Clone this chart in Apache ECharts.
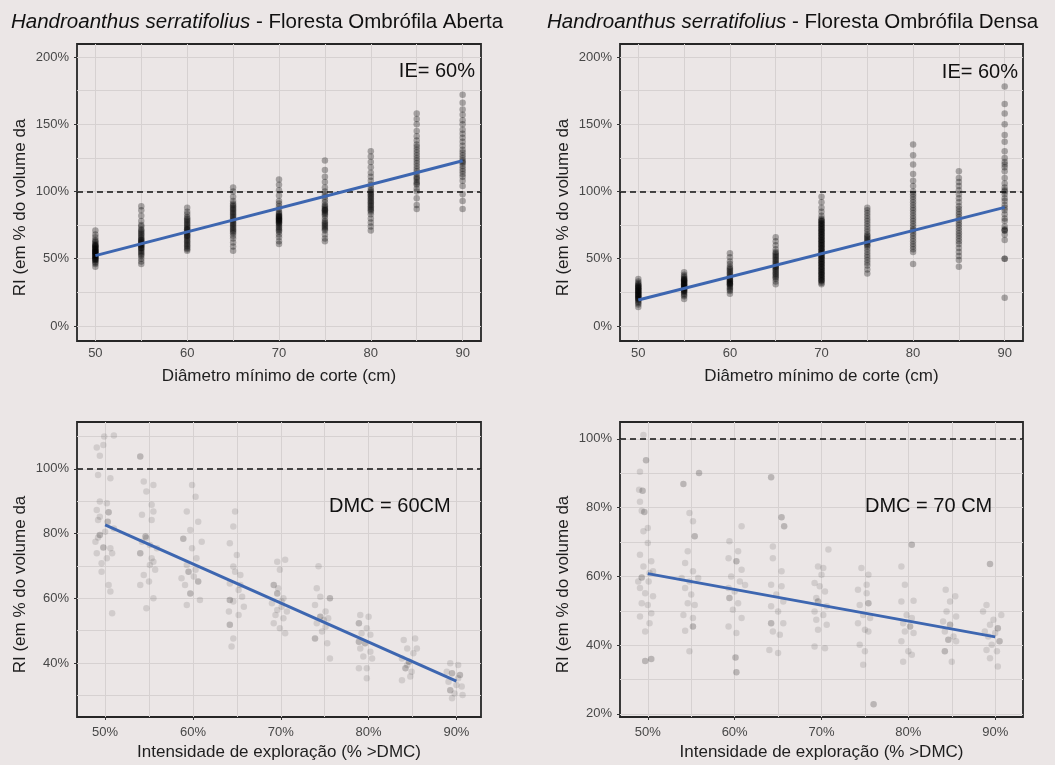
<!DOCTYPE html>
<html>
<head>
<meta charset="utf-8">
<script src="https://cdn.jsdelivr.net/npm/echarts@6/dist/echarts.min.js"></script>
<style>
html, body { margin: 0; padding: 0; background: #ebe6e6; }
#chart { width: 1055px; height: 765px; }
</style>
</head>
<body>
<div id="chart"></div>
<script>
// ---- Simulated RI (% of initial volume) by minimum cutting diameter, IE = 60% ----
const dmcLevels = [50, 55, 60, 65, 70, 75, 80, 85, 90];

// Floresta Ombrófila Aberta, one list of RI values per DMC level
const aberta50 = [44,46,47,48,49,49,50,50,51,51,52,52,53,53,54,54,55,55,55,56,56,57,57,58,58,59,59,60,60,61,62,63,64,66,68,71];
const aberta55 = [46,48,50,52,53,54,55,56,57,58,58,59,60,60,61,62,62,63,64,64,65,66,67,68,69,70,71,72,74,75,78,82,86,89];
const aberta60 = [56,57,58,59,60,61,62,63,64,65,66,67,67,68,69,70,71,72,72,73,74,75,76,77,78,79,80,81,83,85,88];
const aberta65 = [56,59,62,65,67,69,70,71,72,73,74,75,76,77,78,79,80,81,82,83,84,85,86,87,88,89,90,91,93,96,100,103];
const aberta70 = [61,63,66,68,70,71,72,73,74,75,76,77,77,78,78,79,79,80,80,81,81,82,82,83,84,85,87,89,91,93,97,101,105,109];
const aberta75 = [63,65,68,71,72,73,74,75,76,77,78,80,82,83,84,85,86,86,87,88,89,90,92,94,96,98,100,103,107,111,116,123];
const aberta80 = [71,74,77,80,83,85,86,87,88,89,90,91,92,93,94,95,96,97,98,99,100,101,103,105,108,111,114,118,122,126,130];
const aberta85 = [87,90,95,100,102,105,106,107,109,110,111,113,115,117,119,121,123,125,127,129,131,133,135,138,141,145,150,154,158];
const aberta90 = [87,93,98,104,108,111,113,115,117,119,121,122,123,125,127,129,131,134,137,140,143,146,150,153,157,161,166,172];
const abertaTrend = [[50, 52.3], [90, 122.9]];

// Floresta Ombrófila Densa
const densa50 = [14,16,17,18,19,20,20,21,21,22,22,23,23,24,24,25,25,26,26,27,27,28,28,29,29,30,30,31,32,33,35];
const densa55 = [20,22,23,24,25,26,26,27,27,28,28,29,29,30,30,31,31,32,32,33,33,34,34,35,35,36,37,38,40];
const densa60 = [24,26,27,28,29,30,31,31,32,32,33,33,34,35,35,36,37,38,39,40,41,42,43,44,46,48,51,54];
const densa65 = [31,33,35,36,37,38,39,40,41,42,43,44,44,45,46,47,48,49,50,51,52,53,54,55,57,60,63,66];
const densa70 = [31,32,33,34,35,36,37,38,39,40,41,42,43,44,45,46,47,48,49,50,51,52,53,54,55,56,57,58,59,60,
                 61,62,63,64,65,66,67,68,69,70,71,72,73,74,75,76,77,78,79,80,82,85,88,92,96,
                 34,36,38,40,42,44,46,48,50,52,54,56,58,60,62,64,66,68,70,72,74,76,78];
const densa75 = [39,42,45,47,49,51,53,55,57,59,60,61,62,63,64,65,66,67,68,70,72,74,76,78,80,82,84,86,88];
const densa80 = [46,55,57,59,61,63,65,67,69,71,72,74,76,78,80,82,84,86,88,90,92,94,96,98,100,104,108,113,120,127,135];
const densa85 = [44,49,52,55,58,61,63,65,67,69,71,73,75,77,79,81,83,85,87,89,92,95,98,101,104,107,110,115];
const densa90 = [21,50,50,64,68,71,71,72,74,78,80,83,86,88,90,93,95,98,100,101,103,106,110,115,118,120,122,125,130,137,142,150,158,165,178];
const densaTrend = [[50, 19.3], [90, 88.2]];

// ---- RI by exploitation intensity (jittered IE, RI) ----
// DMC = 60 cm
const dmc60Points = [
  [49.05,106.6],[49.8,107.4],[49.9,110.0],[51.0,110.3],[49.4,104.1],[49.2,98.1],[50.6,97.1],
  [49.4,89.9],[50.2,89.4],[49.05,87.3],[50.4,86.6],[50.4,86.6],[49.2,84.2],[50.3,83.7],[50.3,83.7],
  [49.4,79.6],[49.4,79.6],[49.2,78.8],[49.8,75.7],[49.8,75.7],[50.6,75.5],[49.05,73.9],[50.2,72.4],
  [49.6,68.2],[50.4,64.1],[50.6,62.1],[50.8,55.4],[48.9,77.5],[51.0,81.6],[49.4,85.2],[50.0,80.6],
  [49.6,70.8],[50.8,73.9],
  [54.0,103.8],[54.0,103.8],[54.4,96.1],[55.5,95.0],[54.7,93.0],[55.3,88.9],[54.2,85.8],[55.3,84.2],
  [54.6,79.1],[54.6,79.1],[54.7,78.6],[54.0,73.9],[54.0,73.9],[55.3,72.4],[55.1,70.3],[55.7,68.8],
  [54.4,67.2],[55.0,65.2],[54.0,64.1],[55.5,60.0],[54.7,56.9],[55.9,75.5],[55.5,86.8],[54.2,77.5],
  [55.1,76.5],[55.5,71.3],
  [59.9,95.0],[60.3,91.4],[59.3,86.8],[60.6,83.7],[59.7,81.1],[58.9,78.4],[58.9,78.4],[59.9,75.5],
  [60.4,72.4],[59.3,70.3],[59.5,68.2],[59.5,68.2],[60.1,66.7],[60.6,65.2],[60.6,65.2],[59.1,64.1],
  [59.7,61.5],[59.7,61.5],[60.8,59.5],[59.3,57.9],[60.3,68.8],[58.7,66.2],[61.0,77.5],
  [64.8,86.8],[64.6,82.2],[64.2,77.0],[65.0,73.4],[64.6,69.8],[65.4,67.2],[64.2,64.6],[65.2,62.6],
  [64.2,59.5],[64.2,59.5],[64.6,59.0],[65.6,60.5],[64.1,55.9],[65.2,54.8],[64.2,51.8],[64.2,51.8],
  [65.8,57.4],[64.6,47.6],[64.4,45.1],[65.4,64.1],[64.8,68.2],
  [69.6,71.3],[70.5,71.9],[69.9,68.8],[69.2,64.1],[69.2,64.1],[69.6,61.5],[69.6,61.5],[70.3,60.0],
  [69.0,58.5],[70.1,57.4],[70.7,55.9],[69.4,54.8],[70.3,53.8],[69.2,52.3],[69.9,50.7],[70.5,49.2],
  [69.7,63.1],[70.1,59.0],[69.6,56.4],
  [74.1,63.1],[75.6,60.0],[75.6,60.0],[74.5,60.5],[73.9,57.9],[75.1,55.9],[74.5,54.3],[74.5,54.3],
  [75.4,53.8],[74.1,52.3],[75.1,51.2],[74.7,49.7],[73.9,47.6],[73.9,47.6],[75.3,46.1],[75.6,41.4],
  [74.3,69.9],[74.9,53.3],
  [79.05,54.8],[80.0,54.3],[78.9,52.3],[78.9,52.3],[79.8,50.7],[79.2,49.2],[80.2,48.7],[78.9,46.6],
  [78.9,46.6],[79.6,46.1],[79.6,46.1],[79.05,44.5],[80.2,43.5],[79.4,42.0],[79.8,38.4],[78.9,38.4],
  [79.8,35.3],[80.4,41.4],
  [84.0,47.1],[85.3,47.6],[84.4,44.5],[85.1,43.0],[83.8,41.4],[84.6,40.4],[84.6,40.4],[84.2,38.4],
  [84.2,38.4],[84.9,37.3],[83.8,34.7],[84.75,35.8],[85.5,44.5],[84.4,39.4],
  [89.3,39.9],[90.2,39.4],[89.5,36.8],[89.5,36.8],[90.4,36.3],[90.4,36.3],[89.1,34.2],[90.0,33.2],
  [90.6,32.7],[89.3,31.6],[89.3,31.6],[89.8,30.6],[90.7,30.1],[89.5,29.1],[90.2,35.3],[88.9,37.3]
];
const dmc60Trend = [[50, 82.7], [90, 34.4]];

// DMC = 70 cm
const dmc70Points = [
  [49.5,101.1],[49.8,93.8],[49.8,93.8],[49.1,90.4],[49.0,85.2],[49.4,84.9],[49.4,84.9],[49.1,81.7],
  [49.3,79.1],[49.6,78.7],[49.6,78.7],[50.0,74.1],[49.5,73.1],[50.0,69.7],[49.1,66.3],[50.4,64.4],
  [49.5,62.9],[50.2,61.0],[49.3,59.7],[49.3,59.7],[50.1,58.5],[49.1,56.6],[49.7,55.1],[50.6,54.2],
  [49.3,52.2],[50.0,51.7],[50.4,49.3],[49.1,48.3],[50.2,46.4],[49.7,44.0],[49.7,35.4],[49.7,35.4],
  [50.4,36.0],[50.4,36.0],[50.6,61.5],[48.9,58.5],
  [54.1,86.9],[54.1,86.9],[55.9,90.1],[55.9,90.1],[54.8,78.4],[55.2,76.0],[55.4,71.7],[55.4,71.7],
  [54.6,67.3],[54.3,63.9],[55.2,61.5],[53.9,59.5],[54.8,58.5],[55.8,59.5],[54.3,56.6],[55.0,54.7],
  [54.6,52.2],[55.4,51.7],[54.1,48.8],[55.2,47.9],[54.3,44.2],[55.2,45.4],[55.2,45.4],[54.8,38.2],
  [60.8,74.6],[59.4,70.2],[60.4,67.3],[59.3,65.3],[60.2,64.4],[60.2,64.4],[60.8,61.9],[59.6,60.0],
  [60.6,58.5],[59.3,56.6],[60.0,55.6],[59.4,53.7],[59.4,53.7],[60.4,52.2],[59.8,50.3],[60.8,47.9],
  [59.3,45.4],[60.2,43.5],[60.1,36.4],[60.1,36.4],[60.2,32.1],[60.2,32.1],[61.2,57.5],
  [64.2,88.8],[64.2,88.8],[65.4,77.2],[65.4,77.2],[65.7,74.6],[65.7,74.6],[64.4,68.7],[64.4,65.3],
  [65.4,61.5],[64.2,57.6],[65.4,57.1],[64.8,54.7],[65.6,52.7],[64.2,51.3],[65.0,49.8],[64.2,46.4],
  [64.2,46.4],[65.6,46.4],[64.4,44.0],[65.2,43.0],[64.0,38.6],[65.0,37.7],
  [70.8,67.8],[69.6,62.9],[70.2,62.4],[69.2,58.1],[69.8,57.1],[70.4,55.6],[69.4,53.7],[69.6,52.7],
  [69.6,52.7],[70.6,51.3],[69.2,49.8],[70.2,48.8],[69.4,47.4],[70.6,45.9],[69.6,44.5],[69.2,39.6],
  [70.4,39.1],[70.0,60.5],
  [74.6,62.4],[75.4,60.5],[74.2,56.1],[75.2,55.1],[74.4,51.7],[75.4,52.2],[75.4,52.2],[74.8,48.8],
  [75.6,47.9],[74.2,46.4],[75.0,44.5],[75.4,44.0],[74.4,40.1],[75.0,38.2],[74.8,34.3],[76.0,22.8],
  [76.0,22.8],[75.2,57.6],
  [80.4,69.2],[80.4,69.2],[79.2,62.9],[79.6,57.6],[79.2,52.7],[80.6,52.9],[79.8,48.8],[80.4,47.9],
  [79.4,46.4],[80.2,45.4],[80.2,45.4],[79.6,44.0],[80.6,43.5],[79.2,41.1],[80.0,38.2],[79.4,35.2],
  [80.4,37.2],
  [84.3,56.1],[85.4,54.2],[84.4,49.8],[85.5,48.3],[84.0,46.9],[84.8,45.9],[84.8,45.9],[84.2,44.0],
  [85.2,42.5],[84.6,41.6],[84.6,41.6],[85.5,41.1],[84.2,38.2],[84.2,38.2],[85.0,35.2],[84.8,52.7],
  [89.4,63.6],[89.4,63.6],[89.0,51.7],[90.7,48.8],[89.8,47.4],[89.4,45.9],[90.3,44.9],[90.3,44.9],
  [90.0,43.5],[89.2,42.5],[90.5,41.1],[90.5,41.1],[89.6,40.1],[89.0,38.6],[90.2,38.2],[89.4,36.2],
  [90.3,33.8],[88.6,49.8],[88.8,44.0]
];
const dmc70Trend = [[50, 60.8], [90, 42.4]];

// ---- axis breaks ----
const dmcTicks = [50, 60, 70, 80, 90];
const dmcMinor = [55, 65, 75, 85];
const ieTicks = [50, 60, 70, 80, 90];
const ieMinor = [55, 65, 75, 85];
const riTicksTop = [0, 50, 100, 150, 200];
const riMinorTop = [25, 75, 125, 175];
const riTicks60 = [40, 60, 80, 100];
const riMinor60 = [30, 50, 70, 90, 110];
const riTicks70 = [20, 40, 60, 80, 100];
const riMinor70 = [30, 50, 70, 90];

const yTitle = 'RI (em % do volume da';
const xTitleTop = 'Diâmetro mínimo de corte (cm)';
const xTitleBottom = 'Intensidade de exploração (% >DMC)';

// ---- styling ----
const FONT = '"Liberation Sans", Arial, sans-serif';
const BG = '#ebe6e6';
const GRID_COLOR = '#d6d1d1';
const BLUE = '#3d66b0';

const columnsAberta = [aberta50, aberta55, aberta60, aberta65, aberta70, aberta75, aberta80, aberta85, aberta90];
const columnsDensa = [densa50, densa55, densa60, densa65, densa70, densa75, densa80, densa85, densa90];
function columnsToPoints(cols) {
  const out = [];
  cols.forEach((vals, i) => vals.forEach(v => out.push([dmcLevels[i], v])));
  return out;
}

const panels = [
  { grid: { left: 77, top: 44, width: 404, height: 297 },
    x: [48, 92], y: [-11.2, 209.7], xt: dmcTicks, xm: dmcMinor, yt: riTicksTop, ym: riMinorTop,
    xPct: false, xName: xTitleTop, xLabMargin: 6,
    points: columnsToPoints(columnsAberta), trend: abertaTrend, opacity: 0.3 },
  { grid: { left: 620, top: 44, width: 403, height: 297 },
    x: [48, 92], y: [-11.2, 209.7], xt: dmcTicks, xm: dmcMinor, yt: riTicksTop, ym: riMinorTop,
    xPct: false, xName: xTitleTop, xLabMargin: 6,
    points: columnsToPoints(columnsDensa), trend: densaTrend, opacity: 0.3 },
  { grid: { left: 77, top: 422, width: 404, height: 295 },
    x: [46.8, 92.8], y: [23.3, 114.5], xt: ieTicks, xm: ieMinor, yt: riTicks60, ym: riMinor60,
    xPct: true, xName: xTitleBottom, xLabMargin: 9,
    points: dmc60Points, trend: dmc60Trend, opacity: 0.11 },
  { grid: { left: 620, top: 422, width: 403, height: 295 },
    x: [46.8, 93.2], y: [19.1, 104.9], xt: ieTicks, xm: ieMinor, yt: riTicks70, ym: riMinor70,
    xPct: true, xName: xTitleBottom, xLabMargin: 9,
    points: dmc70Points, trend: dmc70Trend, opacity: 0.11 }
];

const grids = [], xAxes = [], yAxes = [], series = [];
panels.forEach((p, i) => {
  grids.push(Object.assign({ show: true, borderColor: '#262626', borderWidth: 1.8, backgroundColor: 'transparent' }, p.grid));
  xAxes.push({
    type: 'value', gridIndex: i, min: p.x[0], max: p.x[1],
    axisLine: { show: false },
    axisTick: { show: true, length: 3, customValues: p.xt, lineStyle: { color: '#333', width: 1 } },
    axisLabel: { customValues: p.xt, margin: p.xLabMargin, color: '#474747', fontSize: 13, fontFamily: FONT,
                 formatter: v => p.xPct ? v + '%' : String(v) },
    splitLine: { show: false },
    name: p.xName, nameLocation: 'middle', nameGap: 27,
    nameTextStyle: { fontSize: 17, color: '#1e1e1e', fontFamily: FONT }
  });
  yAxes.push({
    type: 'value', gridIndex: i, min: p.y[0], max: p.y[1],
    axisLine: { show: false },
    axisTick: { show: true, length: 3, customValues: p.yt, lineStyle: { color: '#333', width: 1 } },
    axisLabel: { customValues: p.yt, margin: 8, color: '#474747', fontSize: 13, fontFamily: FONT,
                 formatter: v => v + '%' },
    splitLine: { show: false },
    name: yTitle, nameLocation: 'middle', nameGap: 48, nameRotate: 90,
    nameTextStyle: { fontSize: 17, color: '#1e1e1e', fontFamily: FONT, padding: [0, 30, 0, 0] }
  });
  const gridLines = []
    .concat(p.xt.map(v => ({ xAxis: v })), p.xm.map(v => ({ xAxis: v })))
    .concat(p.yt.map(v => ({ yAxis: v })), p.ym.map(v => ({ yAxis: v })));
  series.push({
    type: 'scatter', xAxisIndex: i, yAxisIndex: i, z: 2, silent: true,
    symbol: 'circle', symbolSize: 6.5,
    itemStyle: { color: '#000', opacity: p.opacity },
    data: p.points,
    markLine: {
      z: 1, silent: true, symbol: ['none', 'none'], label: { show: false },
      lineStyle: { color: GRID_COLOR, width: 1, type: 'solid' },
      emphasis: { disabled: true },
      data: gridLines
    }
  });
  series.push({
    type: 'line', xAxisIndex: i, yAxisIndex: i, z: 4, silent: true,
    symbol: 'none', lineStyle: { color: BLUE, width: 3 },
    data: p.trend,
    markLine: {
      z: 3, silent: true, symbol: ['none', 'none'], label: { show: false },
      lineStyle: { color: '#111', width: 1.5, type: [6, 4] },
      emphasis: { disabled: true },
      data: [{ yAxis: 100 }]
    }
  });
});

const titleRich = {
  i: { fontSize: 20.5, fontStyle: 'italic', fontWeight: 'normal', fontFamily: FONT, color: '#111' },
  n: { fontSize: 20.5, fontWeight: 'normal', fontFamily: FONT, color: '#111' }
};

const annotation = (x, y, text, align) => ({
  type: 'text', x: x, y: y, z: 100,
  style: { text: text, align: align, verticalAlign: 'middle', fontSize: 20, fontFamily: FONT, fill: '#111' }
});

const chart = echarts.init(document.getElementById('chart'), null, { renderer: 'canvas' });
chart.setOption({
  backgroundColor: BG,
  animation: false,
  title: [
    { text: '{i|Handroanthus serratifolius}{n| - Floresta Ombrófila Aberta}', left: 6, top: 7,
      textStyle: { fontWeight: 'normal', rich: titleRich } },
    { text: '{i|Handroanthus serratifolius}{n| - Floresta Ombrófila Densa}', left: 542, top: 7,
      textStyle: { fontWeight: 'normal', rich: titleRich } }
  ],
  grid: grids,
  xAxis: xAxes,
  yAxis: yAxes,
  series: series,
  graphic: [
    annotation(475, 71, 'IE= 60%', 'right'),
    annotation(1018, 72, 'IE= 60%', 'right'),
    annotation(329, 506, 'DMC = 60CM', 'left'),
    annotation(865, 506, 'DMC = 70 CM', 'left')
  ]
});
</script>
</body>
</html>
